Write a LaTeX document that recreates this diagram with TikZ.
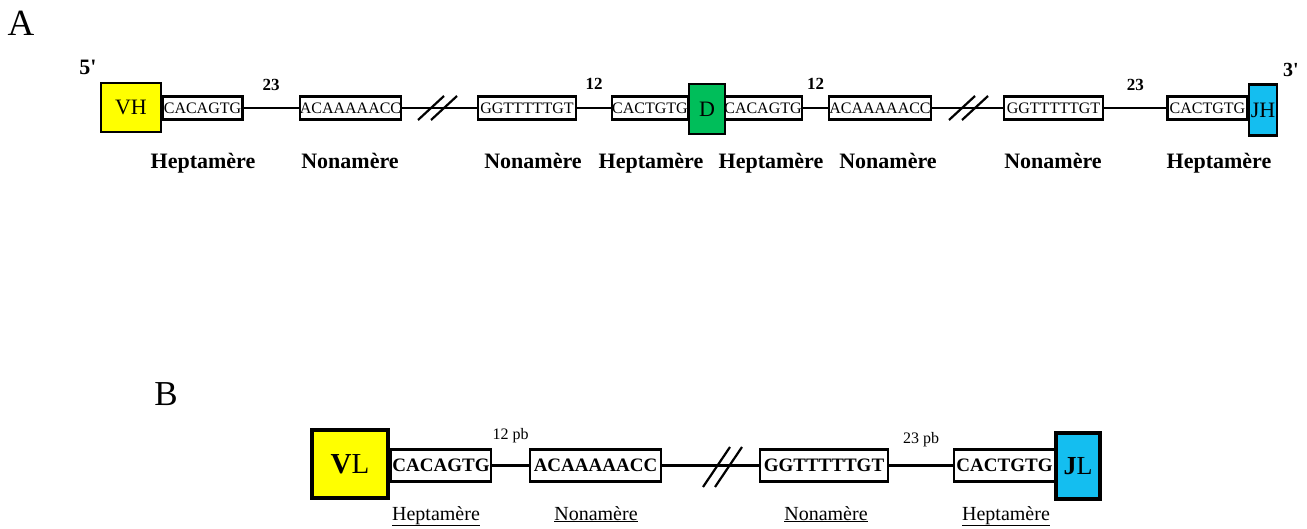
\documentclass[tikz,border=0pt]{standalone}
\usepackage{fontspec}
\setmainfont{Liberation Serif}
\definecolor{genyellow}{RGB}{255,255,0}
\definecolor{gengreen}{RGB}{0,190,90}
\definecolor{gencyan}{RGB}{20,190,240}
\begin{document}
\begin{tikzpicture}[x=1pt,y=-1pt,
  seqa/.style={draw, line width=2.2pt, fill=white, inner sep=0pt, minimum height=23pt, font=\fontsize{16}{16}\selectfont},
  gena/.style={draw, line width=2.8pt, inner sep=0pt, font=\fontsize{22}{24}\selectfont},
  lbla/.style={font=\fontsize{22}{24}\selectfont\bfseries, anchor=base},
  numa/.style={font=\fontsize{17}{18}\selectfont\bfseries},
  link/.style={line width=2.2pt},
  brk/.style={line width=2.2pt},
  seqb/.style={draw, line width=2.6pt, fill=white, inner sep=0pt, minimum height=32pt, font=\fontsize{19}{20}\selectfont\bfseries},
  genb/.style={draw, line width=4pt, inner sep=0pt},
  lblb/.style={font=\fontsize{20}{21}\selectfont, anchor=base},
  numb/.style={font=\fontsize{16}{17}\selectfont},
  panel/.style={font=\fontsize{37}{40}\selectfont},
]
\useasboundingbox (0,0) rectangle (1307,529);

% ---------- Panel A ----------
\node[panel] (labA) at (21,23) {A};
\node[lbla, anchor=center] (p5) at (88,67) {5\textquotesingle};
\node[lbla, anchor=center, font=\fontsize{20}{22}\selectfont\bfseries] (p3) at (1291,70) {3\textquotesingle};

\node[seqa, minimum width=80pt] (h1) at (202.5,108) {CACAGTG};
\node[seqa, minimum width=97pt] (n1) at (350.5,108) {ACAAAAACC};
\node[seqa, minimum width=98pt] (n2) at (527,108) {GGTTTTTGT};
\node[seqa, minimum width=75pt] (h2) at (650,108) {CACTGTG};
\node[seqa, minimum width=73pt] (h3) at (763,108) {CACAGTG};
\node[seqa, minimum width=96pt] (n3) at (880,108) {ACAAAAACC};
\node[seqa, minimum width=99pt] (n4) at (1053.5,108) {GGTTTTTGT};
\node[seqa, minimum width=80pt] (h4) at (1207.5,108) {CACTGTG};

\node[gena, fill=genyellow, minimum width=60pt, minimum height=49pt] (vh) at (131,107.5) {VH};
\node[gena, fill=gengreen, minimum width=36pt, minimum height=50pt] (d) at (707,109) {D};
\node[gena, fill=gencyan, minimum width=28pt, minimum height=51pt] (jh) at (1263,110) {JH};

\draw[link] (h1.east) -- node[numa, midway, yshift=23pt] (s23a) {23} (n1.west);
\draw[link] (n1.east) -- (n2.west);
\draw[link] (n2.east) -- node[numa, midway, yshift=24pt] (s12a) {12} (h2.west);
\draw[link] (h3.east) -- node[numa, midway, yshift=24pt] (s12b) {12} (n3.west);
\draw[link] (n3.east) -- (n4.west);
\draw[link] (n4.east) -- node[numa, midway, yshift=23pt] (s23b) {23} (h4.west);

% breaks A
\draw[brk] (418,120) -- (444,96);
\draw[brk] (431,120) -- (457,96);
\draw[brk] (949,120) -- (975,96);
\draw[brk] (962,120) -- (988,96);

\node[lbla] (la1) at (203,169) {Heptamère};
\node[lbla] (la2) at (350,169) {Nonamère};
\node[lbla] (la3) at (533,169) {Nonamère};
\node[lbla] (la4) at (651,169) {Heptamère};
\node[lbla] (la5) at (771,169) {Heptamère};
\node[lbla] (la6) at (888,169) {Nonamère};
\node[lbla] (la7) at (1053,169) {Nonamère};
\node[lbla] (la8) at (1219,169) {Heptamère};

% ---------- Panel B ----------
\node[panel, font=\fontsize{35}{38}\selectfont] (labB) at (166,394) {B};

\node[seqb, minimum width=100pt] (bh1) at (441,465.5) {CACAGTG};
\node[seqb, minimum width=131pt] (bn1) at (595.5,465.5) {ACAAAAACC};
\node[seqb, minimum width=128pt] (bn2) at (824,465.5) {GGTTTTTGT};
\node[seqb, minimum width=101pt] (bh2) at (1004.5,465.5) {CACTGTG};

\node[genb, fill=genyellow, minimum width=76pt, minimum height=68pt, font=\fontsize{29}{30}\selectfont] (vl) at (350,464) {\textbf{V}L};
\node[genb, fill=gencyan, minimum width=44pt, minimum height=66pt, font=\fontsize{26}{28}\selectfont] (jl) at (1078,466) {\textbf{J}L};

\draw[link] (bh1.east) -- node[numb, midway, yshift=30pt] (s12pb) {12 pb} (bn1.west);
\draw[link] (bn1.east) -- (bn2.west);
\draw[link] (bn2.east) -- node[numb, midway, yshift=26pt] (s23pb) {23 pb} (bh2.west);

\draw[brk] (703,487) -- (730,447);
\draw[brk] (715,487) -- (742,447);

\node[lblb] (lb1) at (436,520) {\underline{Heptamère}};
\node[lblb] (lb2) at (596,520) {\underline{Nonamère}};
\node[lblb] (lb3) at (826,520) {\underline{Nonamère}};
\node[lblb] (lb4) at (1006,520) {\underline{Heptamère}};
\end{tikzpicture}
\end{document}
